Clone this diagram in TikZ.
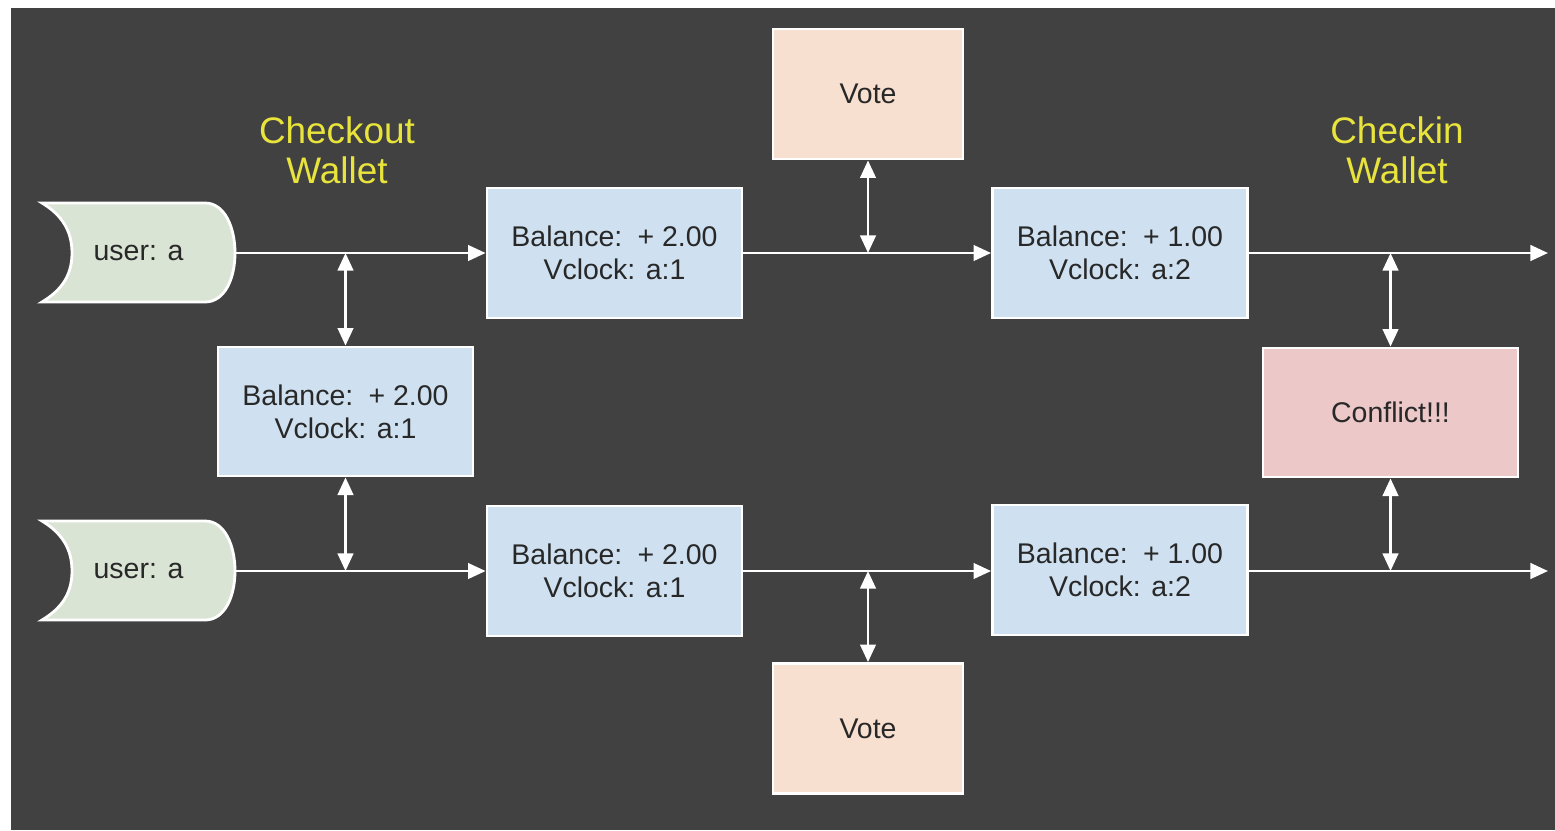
\documentclass[tikz,border=0pt]{standalone}
\usepackage{fontspec}
\setmainfont{Liberation Sans}
\usetikzlibrary{arrows.meta,positioning}

\definecolor{bgdark}{RGB}{65,65,65}
\definecolor{boxblue}{RGB}{207,225,240}
\definecolor{boxvote}{RGB}{248,224,208}
\definecolor{boxconflict}{RGB}{236,200,200}
\definecolor{boxuser}{RGB}{218,228,212}
\definecolor{titleyellow}{RGB}{232,228,60}
\definecolor{textdark}{RGB}{40,40,40}

\tikzset{
  state/.style={draw=white, line width=0.8pt, fill=boxblue, text=textdark, align=center,
    minimum width=255*0.01cm, minimum height=130*0.01cm, inner sep=0pt,
    font=\fontsize{8.1}{9.4}\selectfont},
  vote/.style={state, fill=boxvote, minimum width=190*0.01cm},
  conflict/.style={state, fill=boxconflict},
  walletlabel/.style={text=titleyellow, align=center, font=\fontsize{10.5}{11.4}\selectfont},
  flow/.style={draw=white, line width=0.8pt, -{Triangle[length=5pt,width=4.4pt]}},
  sync/.style={draw=white, line width=0.8pt, {Triangle[length=5pt,width=4.4pt]}-{Triangle[length=5pt,width=4.4pt]}}
}

\begin{document}
\begin{tikzpicture}[x=0.01cm, y=-0.01cm]
	\useasboundingbox (0,0) rectangle (1555,830);
	\fill[bgdark] (11,8) rectangle (1555,830);
	
	% user stores
	\foreach \n/\y in {usertop/253, userbot/571} {
		\draw[draw=white, line width=0.8pt, fill=boxuser]
			(42,{\y-50}) -- (205,{\y-50}) .. controls (225,{\y-50}) and (235,{\y-25}) .. (235,\y)
			.. controls (235,{\y+25}) and (225,{\y+49}) .. (205,{\y+49}) -- (42,{\y+49})
			.. controls (62,{\y+37}) and (72,{\y+22}) .. (72,\y)
			.. controls (72,{\y-22}) and (62,{\y-38}) .. cycle;
		\node[minimum width=193*0.01cm, minimum height=99*0.01cm, inner sep=0pt, text=textdark,
			font=\fontsize{8.1}{9.4}\selectfont] (\n) at (138.5,\y) {user: a};
	}
	
	\node[walletlabel] (checkout) at (337,150) {Checkout\\Wallet};
	\node[walletlabel] (checkin) at (1397,150) {Checkin\\Wallet};
	
	\node[state] (bal1) at (614.5,253) {Balance: \,+ 2.00\\Vclock: a:1};
	\node[state] (bal2) at (1120,253) {Balance: \,+ 1.00\\Vclock: a:2};
	\node[state, minimum height=129*0.01cm] (balmid) at (345.5,411.5) {Balance: \,+ 2.00\\Vclock: a:1};
	\node[state] (bal3) at (614.5,571) {Balance: \,+ 2.00\\Vclock: a:1};
	\node[state] (bal4) at (1120,570) {Balance: \,+ 1.00\\Vclock: a:2};
	\node[vote] (vote1) at (868,94) {Vote};
	\node[vote] (vote2) at (868,728.5) {Vote};
	\node[conflict, minimum height=129*0.01cm] (conflict) at (1390.5,412.5) {Conflict!!!};
	
	\coordinate (end1) at (1548,253);
	\coordinate (end2) at (1548,571);
	
	% Arrows
	\draw[flow] (usertop) -- (bal1);
	\draw[flow] (bal1) -- (bal2);
	\draw[flow] (bal2.east |- end1) -- (end1);
	\draw[flow] (userbot) -- (bal3);
	\draw[flow] (bal3.east |- end2) -- (bal4.west |- end2);
	\draw[flow] (bal4.east |- end2) -- (end2);
	
	\draw[sync] (balmid.north |- usertop.east) -- (balmid.north);
	\draw[sync] (balmid.south) -- (balmid.south |- userbot.east);
	\draw[sync] (vote1.south) -- (vote1.south |- bal1.east);
	\draw[sync] (vote2.north |- end2) -- (vote2.north);
	\draw[sync] (conflict.north |- end1) -- (conflict.north);
	\draw[sync] (conflict.south) -- (conflict.south |- end2);
\end{tikzpicture}
\end{document}
